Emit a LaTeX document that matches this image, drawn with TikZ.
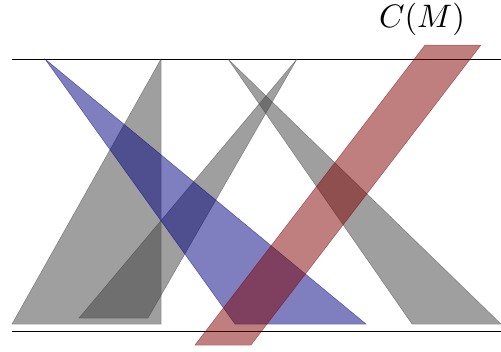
\documentclass[tikz,border=0pt]{standalone}
\begin{document}
\begin{tikzpicture}[x=1pt,y=-1pt,
  grayshape/.style={fill=gray!50!black,draw=gray!50!black,opacity=0.5,line width=0.5pt},
  blueshape/.style={fill=blue!50!black,draw=blue!50!black,opacity=0.5,line width=0.5pt},
  redshape/.style={fill=red!50!black,draw=red!50!black,opacity=0.5,line width=0.5pt},
  baseline/.style={draw=black,line width=0.8pt}]
\useasboundingbox (0,0) rectangle (501,351);
% horizontal lines
\coordinate (tl) at (12,59);
\coordinate (tr) at (501,59);
\coordinate (bl) at (12,331);
\coordinate (br) at (501,331);
\draw[baseline] (tl) -- (tr);
\draw[baseline] (bl) -- (br);
% gray left big triangle
\fill[grayshape] (161,59) -- (161,324) -- (12,324) -- cycle;
% gray small triangle
\fill[grayshape] (297,59) -- (148,318) -- (79,318) -- cycle;
% blue triangle
\fill[blueshape] (45,59) -- (366,324) -- (235,324) -- cycle;
% gray right triangle
\fill[grayshape] (228,59) -- (501,324) -- (412,324) -- cycle;
% red band
\fill[redshape] (425,45) -- (481,45) -- (251,345) -- (195,345) -- cycle;
% label
\node[scale=3.25,inner sep=0pt] (cm) at (422,19) {$C(M)$};
\end{tikzpicture}
\end{document}
